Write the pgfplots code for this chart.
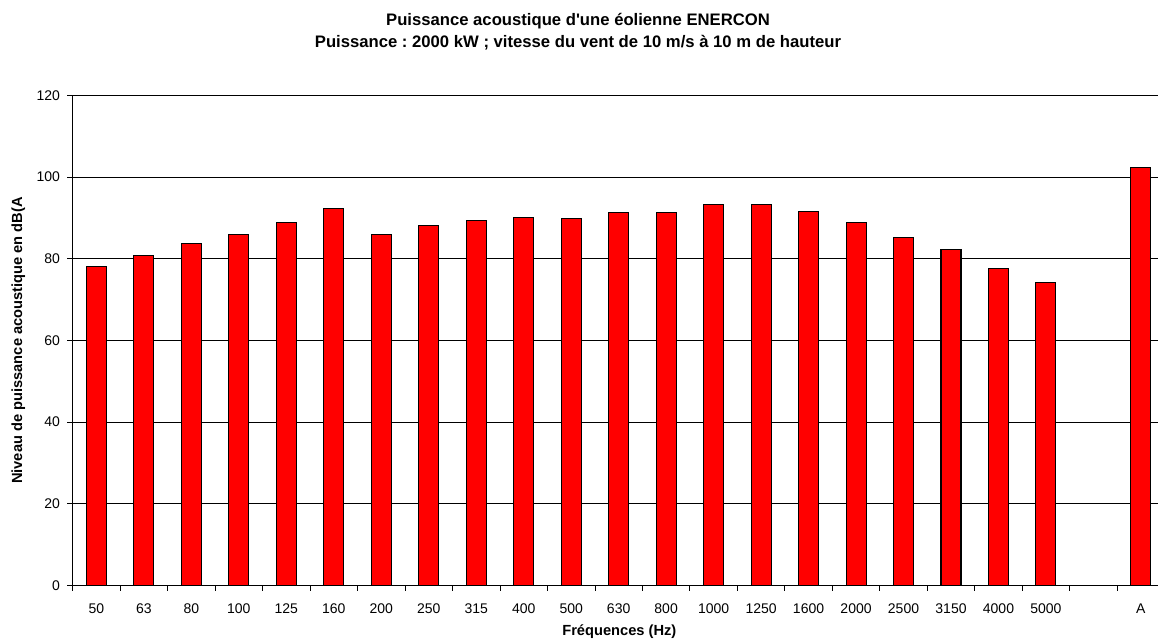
\documentclass[border=0pt]{standalone}
\usepackage{pgfplots}
\pgfplotsset{compat=1.18}
\usepackage{fontspec}
\setmainfont{Liberation Sans}
\frenchspacing
\pgfplotstableread{
x y
0 78.2
1 80.7
2 83.7
3 85.9
4 89.0
5 92.4
6 86.0
7 88.2
8 89.4
9 90.0
10 89.8
11 91.3
12 91.3
13 93.3
14 93.2
15 91.6
16 88.9
17 85.2
18 82.3
19 77.6
20 74.2
22 102.4
}\datatable
\begin{document}
\begin{tikzpicture}
\begin{axis}[
  at={(0,0)}, anchor=south west,
  scale only axis, width=814pt, height=367.5pt,
  xmin=-0.5, xmax=22.36, ymin=0, ymax=120,
  axis x line*=bottom, axis y line*=left,
  axis line style={black, line width=0.8pt},
  ytick={0,20,...,120},
  ymajorgrids, grid style={black, line width=0.6pt},
  xtick={0,...,22},
  xticklabels={50,63,80,100,125,160,200,250,315,400,500,630,800,1000,1250,1600,2000,2500,3150,4000,5000,,A},
  major x tick style={draw=none},
  minor xtick={-0.5,0.5,...,21.5},
  minor x tick style={draw=black, line width=0.6pt},
  major y tick style={draw=black, line width=0.6pt},
  tick align=outside,
  major tick length=4pt, minor tick length=4pt,
  tick label style={font=\fontsize{10.5}{12}\selectfont},
  /pgf/number format/assume math mode=true,
  xticklabel style={yshift=-6pt},
  yticklabel style={xshift=-2pt},
  ybar, bar width=15pt,
  xlabel={Fréquences (Hz)},
  ylabel={Niveau de puissance acoustique en dB(A},
  xlabel style={font=\bfseries\fontsize{11}{13}\selectfont, at={(axis description cs:0.5037,-0.095)}, anchor=center},
  ylabel style={font=\bfseries\fontsize{11}{13}\selectfont, at={(axis description cs:-0.05,0.5)}, anchor=center},
]
\addplot[fill=red, draw=black, line width=0.8pt] table[x=x,y=y] {\datatable};
\end{axis}
\node[font=\bfseries\fontsize{12.5}{16.5}\selectfont, align=center] at (379pt,415pt) {Puissance acoustique d\textquotesingle une éolienne ENERCON\\Puissance : 2000 kW ; vitesse du vent de 10 m/s à 10 m de hauteur};
\pgfresetboundingbox
\useasboundingbox (-54.5pt,-41.6pt) rectangle (814pt,439.1pt);
\end{tikzpicture}
\end{document}
